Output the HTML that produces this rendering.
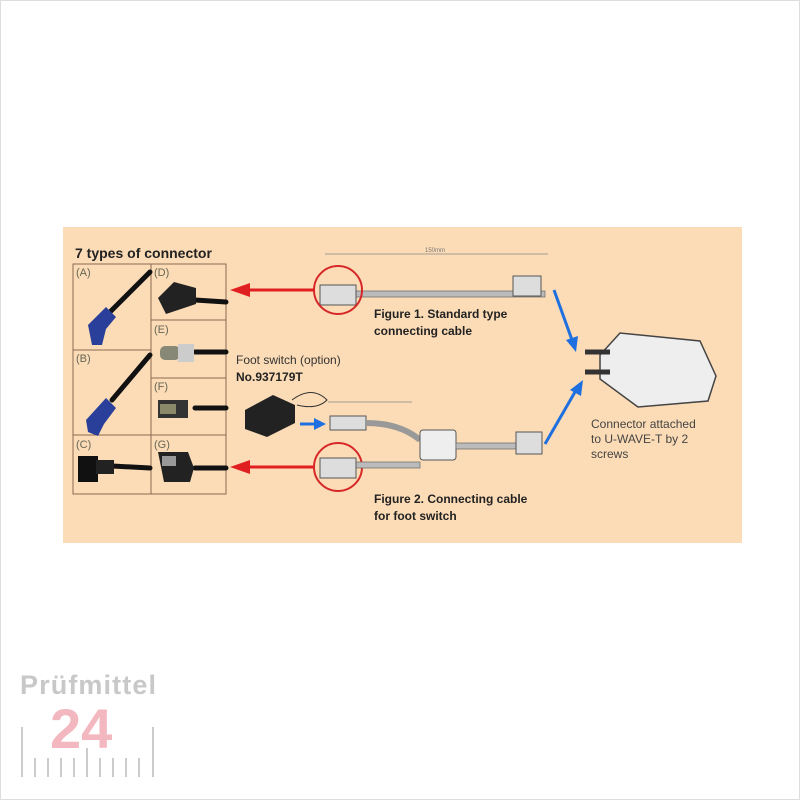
<!DOCTYPE html>
<html><head><meta charset="utf-8"><style>
html,body{margin:0;padding:0;background:#fff}
svg{display:block}
text{font-family:"Liberation Sans",sans-serif}
</style></head><body>
<svg width="800" height="800" viewBox="0 0 800 800" xmlns="http://www.w3.org/2000/svg">
<rect x="0.5" y="0.5" width="799" height="799" fill="#fff" stroke="#ddd"/>
<rect x="63" y="227" width="679" height="316" fill="#fcdcb6"/>
<text x="75" y="258" font-size="14" font-weight="bold" fill="#222">7 types of connector</text>
<g stroke="#8a6a50" stroke-width="1" fill="none">
<rect x="73" y="264" width="153" height="230"/>
<line x1="151" y1="264" x2="151" y2="494"/>
<line x1="73" y1="350" x2="151" y2="350"/>
<line x1="73" y1="435" x2="226" y2="435"/>
<line x1="151" y1="320" x2="226" y2="320"/>
<line x1="151" y1="378" x2="226" y2="378"/>
</g>
<g font-size="11" fill="#665">
<text x="76" y="276">(A)</text><text x="154" y="276">(D)</text>
<text x="154" y="333">(E)</text><text x="76" y="362">(B)</text>
<text x="154" y="390">(F)</text><text x="76" y="448">(C)</text><text x="154" y="448">(G)</text>
</g>
<g stroke="#111" stroke-width="5" stroke-linecap="round" fill="none">
<path d="M150 272 L110 312"/><path d="M150 355 L112 400"/>
<path d="M112 466 L150 468"/>
<path d="M195 300 L226 302"/><path d="M195 352 L226 352"/>
<path d="M195 408 L226 408"/><path d="M195 468 L226 468"/>
</g>
<path d="M88 325 l18 -18 l10 10 l-10 12 l-4 16 l-10 0 z" fill="#2a3f9a"/>
<path d="M86 420 l20 -22 l10 10 l-12 16 l-6 12 l-10 -4 z" fill="#2a3f9a"/>
<rect x="78" y="456" width="20" height="26" fill="#111"/><rect x="96" y="460" width="18" height="14" fill="#222"/>
<path d="M158 298 l16 -16 l22 6 l0 16 l-30 10 z" fill="#222"/>
<rect x="160" y="346" width="20" height="14" rx="5" fill="#887"/><rect x="178" y="344" width="16" height="18" fill="#ccc"/>
<rect x="158" y="400" width="30" height="18" fill="#333"/><rect x="160" y="404" width="16" height="10" fill="#8a8a6a"/>
<path d="M158 452 l30 0 l6 16 l-4 14 l-26 0 z" fill="#222"/><rect x="162" y="456" width="14" height="10" fill="#999"/>
<line x1="325" y1="254" x2="548" y2="254" stroke="#888" stroke-width="0.8"/>
<text x="425" y="252" font-size="6" fill="#777">150mm</text>
<rect x="330" y="291" width="215" height="6" fill="#bbb" stroke="#666" stroke-width="0.7"/>
<rect x="320" y="285" width="36" height="20" fill="#ddd" stroke="#555"/>
<rect x="513" y="276" width="28" height="20" fill="#ddd" stroke="#555"/>
<circle cx="338" cy="290" r="24" fill="none" stroke="#d62828" stroke-width="2"/>
<text x="374" y="318" font-size="12" font-weight="bold" fill="#222">Figure 1. Standard type</text>
<text x="374" y="335" font-size="12" font-weight="bold" fill="#222">connecting cable</text>
<line x1="314" y1="290" x2="248" y2="290" stroke="#e02020" stroke-width="3"/>
<path d="M230 290 l20 -7 l0 14 z" fill="#e02020"/>
<line x1="314" y1="467" x2="248" y2="467" stroke="#e02020" stroke-width="3"/>
<path d="M230 467 l20 -7 l0 14 z" fill="#e02020"/>
<circle cx="338" cy="467" r="24" fill="none" stroke="#d62828" stroke-width="2"/>
<text x="236" y="364" font-size="12" fill="#333">Foot switch (option)</text>
<text x="236" y="381" font-size="12" font-weight="bold" fill="#222">No.937179T</text>
<path d="M245 410 l28 -15 l22 10 l0 18 l-28 14 l-22 -8 z" fill="#222"/>
<path d="M292 400 q20 -15 35 0 q-10 10 -30 5" fill="none" stroke="#333"/>
<line x1="300" y1="424" x2="316" y2="424" stroke="#1e6fe0" stroke-width="3"/>
<path d="M326 424 l-12 -6 l0 12 z" fill="#1e6fe0"/>
<line x1="328" y1="402" x2="412" y2="402" stroke="#888" stroke-width="0.8"/>
<rect x="330" y="416" width="36" height="14" fill="#ddd" stroke="#555"/>
<path d="M366 423 Q400 423 420 440" fill="none" stroke="#999" stroke-width="6"/>
<rect x="350" y="462" width="70" height="6" fill="#bbb" stroke="#666" stroke-width="0.7"/>
<rect x="420" y="430" width="36" height="30" rx="3" fill="#eee" stroke="#555"/>
<rect x="456" y="443" width="64" height="6" fill="#bbb" stroke="#666" stroke-width="0.7"/>
<rect x="516" y="432" width="26" height="22" fill="#ddd" stroke="#555"/>
<rect x="320" y="458" width="36" height="20" fill="#ddd" stroke="#555"/>
<text x="374" y="503" font-size="12" font-weight="bold" fill="#222">Figure 2. Connecting cable</text>
<text x="374" y="520" font-size="12" font-weight="bold" fill="#222">for foot switch</text>
<line x1="554" y1="290" x2="572" y2="340" stroke="#1e6fe0" stroke-width="3"/>
<path d="M576 352 l-10 -12 l12 -4 z" fill="#1e6fe0"/>
<line x1="545" y1="444" x2="575" y2="392" stroke="#1e6fe0" stroke-width="3"/>
<path d="M583 380 l-2 16 l-11 -6 z" fill="#1e6fe0"/>
<path d="M600 355 l20 -22 l80 8 l16 35 l-8 25 l-70 6 l-38 -28 z" fill="#eee" stroke="#444" stroke-width="1.5"/>
<path d="M585 352 l25 0 M585 372 l25 0" stroke="#333" stroke-width="5"/>
<text x="591" y="428" font-size="12" fill="#444">Connector attached</text>
<text x="591" y="443" font-size="12" fill="#444">to U-WAVE-T by 2</text>
<text x="591" y="458" font-size="12" fill="#444">screws</text>
<text x="20" y="694" font-size="27" font-weight="bold" fill="#c8c8c8" textLength="136">Prüfmittel</text>
<text x="50" y="748" font-size="56" font-weight="bold" fill="#f3b8bf">24</text>
<g stroke="#ccc" stroke-width="2">
<line x1="22" y1="727" x2="22" y2="777"/><line x1="153" y1="727" x2="153" y2="777"/>
<line x1="35" y1="758" x2="35" y2="777"/><line x1="48" y1="758" x2="48" y2="777"/>
<line x1="61" y1="758" x2="61" y2="777"/><line x1="74" y1="758" x2="74" y2="777"/>
<line x1="87" y1="748" x2="87" y2="777"/><line x1="100" y1="758" x2="100" y2="777"/>
<line x1="113" y1="758" x2="113" y2="777"/><line x1="126" y1="758" x2="126" y2="777"/>
<line x1="139" y1="758" x2="139" y2="777"/>
</g>
</svg>
</body></html>
